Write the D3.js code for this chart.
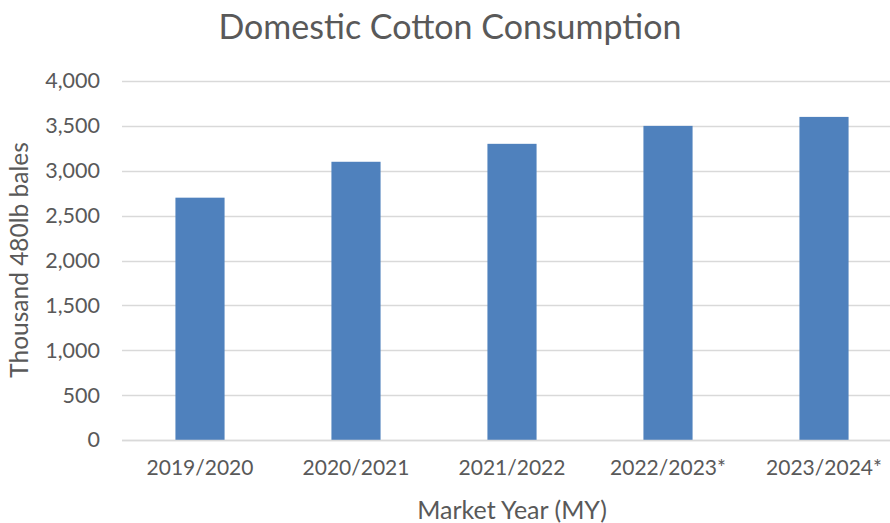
<!DOCTYPE html>
<html>
<head>
<meta charset="utf-8">
<script src="https://cdn.jsdelivr.net/npm/d3@7"></script>
<style>
  html, body { margin: 0; padding: 0; background: #fff; }
  svg text { font-family: Lato, "Open Sans", sans-serif; fill: #595959; }
</style>
</head>
<body>
<svg id="chart" width="890" height="523"></svg>
<script>
// Market years and domestic consumption (thousand 480 lb bales)
const categories = ["2019/2020", "2020/2021", "2021/2022", "2022/2023*", "2023/2024*"];
const consumption = [2700, 3100, 3300, 3500, 3600];
const yTicks = [0, 500, 1000, 1500, 2000, 2500, 3000, 3500, 4000];

const W = 890, H = 523;
const plot = { left: 122, right: 902, top: 81, bottom: 440 };
const FONT = "Lato, 'Open Sans', sans-serif";

const svg = d3.select("#chart");

const x = d3.scaleBand()
  .domain(categories)
  .range([plot.left, plot.right])
  .paddingInner(0.685)
  .paddingOuter(0.3425);

const y = d3.scaleLinear()
  .domain([0, 4000])
  .range([plot.bottom, plot.top]);

// Horizontal gridlines
svg.append("g")
  .selectAll("line")
  .data(yTicks)
  .join("line")
  .attr("x1", plot.left)
  .attr("x2", W)
  .attr("y1", d => Math.round(y(d)) + 0.5)
  .attr("y2", d => Math.round(y(d)) + 0.5)
  .attr("stroke", "#d9d9d9")
  .attr("stroke-width", 1.3);

// Bars
svg.append("g")
  .selectAll("rect")
  .data(consumption)
  .join("rect")
  .attr("x", (d, i) => x(categories[i]))
  .attr("width", x.bandwidth())
  .attr("y", d => y(d))
  .attr("height", d => y(0) - y(d))
  .attr("fill", "#4f81bd");

// Y axis labels
const yAxis = svg.append("g")
  .attr("transform", `translate(${plot.left - 22},0)`)
  .call(d3.axisLeft(y).tickValues(yTicks).tickFormat(d3.format(",")).tickSize(0).tickPadding(0));
yAxis.select(".domain").remove();
yAxis.selectAll("text")
  .attr("font-size", 21.5)
  .attr("fill", "#595959")
  .style("font-family", FONT);

// X axis labels
const xAxis = svg.append("g")
  .attr("transform", `translate(0,${plot.bottom})`)
  .call(d3.axisBottom(x).tickSize(0).tickPadding(20));
xAxis.select(".domain").remove();
xAxis.selectAll("text")
  .attr("font-size", 21)
  .attr("fill", "#595959")
  .style("font-family", FONT);

// Bottom baseline
svg.append("line")
  .attr("x1", plot.left).attr("x2", W)
  .attr("y1", Math.round(y(0)) + 0.5).attr("y2", Math.round(y(0)) + 0.5)
  .attr("stroke", "#d9d9d9").attr("stroke-width", 1.3);

// Title
svg.append("text")
  .attr("x", 450).attr("y", 39)
  .attr("text-anchor", "middle")
  .attr("font-size", 34)
  .text("Domestic Cotton Consumption");

// Axis titles
svg.append("text")
  .attr("x", 512).attr("y", 519)
  .attr("text-anchor", "middle")
  .attr("font-size", 25)
  .text("Market Year (MY)");

svg.append("text")
  .attr("transform", "translate(28,260) rotate(-90)")
  .attr("text-anchor", "middle")
  .attr("font-size", 24.5)
  .text("Thousand 480lb bales");
</script>
</body>
</html>
